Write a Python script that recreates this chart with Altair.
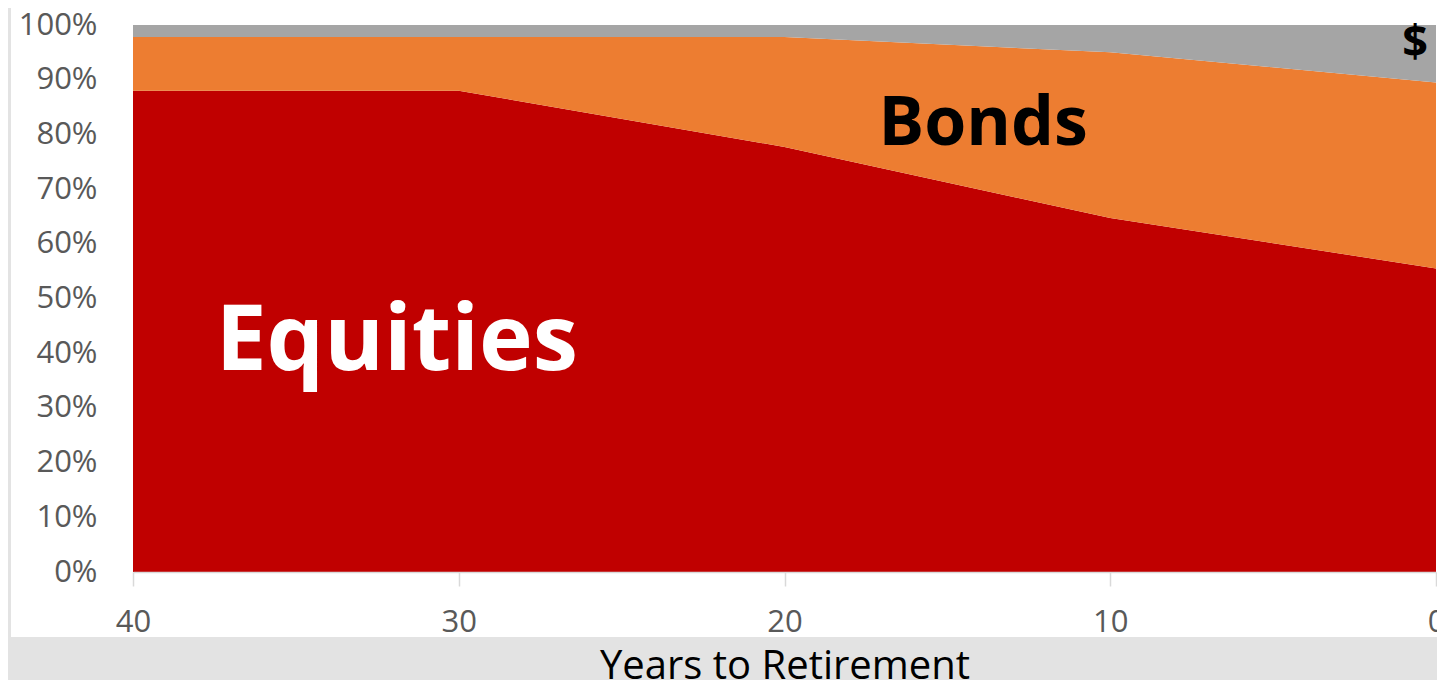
import altair as alt
import pandas as pd

# ---- data ----
years = [40, 30, 20, 10, 0]
equities = [0.88, 0.88, 0.777, 0.647, 0.555]
bonds = [0.098, 0.098, 0.201, 0.303, 0.34]
cash = [0.022, 0.022, 0.022, 0.05, 0.105]
categories = ["Equities", "Bonds", "Cash"]
colors = ["#c00000", "#ed7d31", "#a5a5a5"]
y_ticks = [0, 0.1, 0.2, 0.3, 0.4, 0.5, 0.6, 0.7, 0.8, 0.9, 1.0]

label_text = ["Equities", "Bonds", "$"]
label_year = [31.9, 13.9, 0.64]
label_pct = [0.369, 0.781, 0.942]
label_color = ["#ffffff", "#000000", "#000000"]
label_size = [91, 68, 45]

rows = []
for i, y in enumerate(years):
    for k, (cat, vals) in enumerate(zip(categories, [equities, bonds, cash])):
        rows.append({"year": y, "category": cat, "value": vals[i], "order": k})
df = pd.DataFrame(rows)

labels = pd.DataFrame({
    "label": label_text, "year": label_year, "pct": label_pct,
    "color": label_color, "size": label_size,
})

x_scale = alt.Scale(domain=[40, 0], nice=False)
y_scale = alt.Scale(domain=[0, 1], nice=False)

panel = alt.Chart(pd.DataFrame({"p": [0]})).mark_rect(color="white").encode(
    x=alt.value(-122), x2=alt.value(1312), y=alt.value(-30), y2=alt.value(612)
)

area = alt.Chart(df).mark_area(interpolate="linear").encode(
    x=alt.X("year:Q", scale=x_scale,
            axis=alt.Axis(values=years, format="d", title="Years to Retirement",
                          grid=False, labelFlush=False, zindex=2,
                          domain=True, domainColor="#d9d9d9", domainWidth=1.5,
                          ticks=True, tickColor="#d9d9d9", tickSize=14, tickWidth=1.5,
                          labelBaseline="alphabetic", labelPadding=45,
                          labelFont="Open Sans", labelFontSize=31, labelColor="#595959",
                          titleBaseline="alphabetic", titleY=106,
                          titleFontSize=40, titleFontWeight="normal",
                          titleColor="#000000", titleFont="Open Sans")),
    y=alt.Y("value:Q", stack="zero", scale=y_scale,
            axis=alt.Axis(values=y_ticks, format=".0%", title=None, zindex=2,
                          ticks=False, domain=False, grid=False,
                          labelFont="Open Sans", labelFontSize=31, labelColor="#595959",
                          labelPadding=36)),
    color=alt.Color("category:N", scale=alt.Scale(domain=categories, range=colors),
                    legend=None),
    order=alt.Order("order:Q"),
)

text = alt.Chart(labels).mark_text(
    font="Open Sans", fontWeight="bold", baseline="alphabetic", align="center"
).encode(
    x=alt.X("year:Q", scale=x_scale, title="Years to Retirement"),
    y=alt.Y("pct:Q", scale=y_scale, title=None),
    text="label:N",
    color=alt.Color("color:N", scale=None),
    size=alt.Size("size:Q", scale=None),
)

chart = alt.layer(panel, area, text).properties(
    width=1303, height=547,
    padding={"left": 125, "top": 17, "right": 1, "bottom": 108},
    autosize=alt.AutoSizeParams(type="none"),
    background="#e3e3e3",
).configure_view(stroke=None)

chart.save("out.html", embed_options={"renderer": "svg", "actions": False})
